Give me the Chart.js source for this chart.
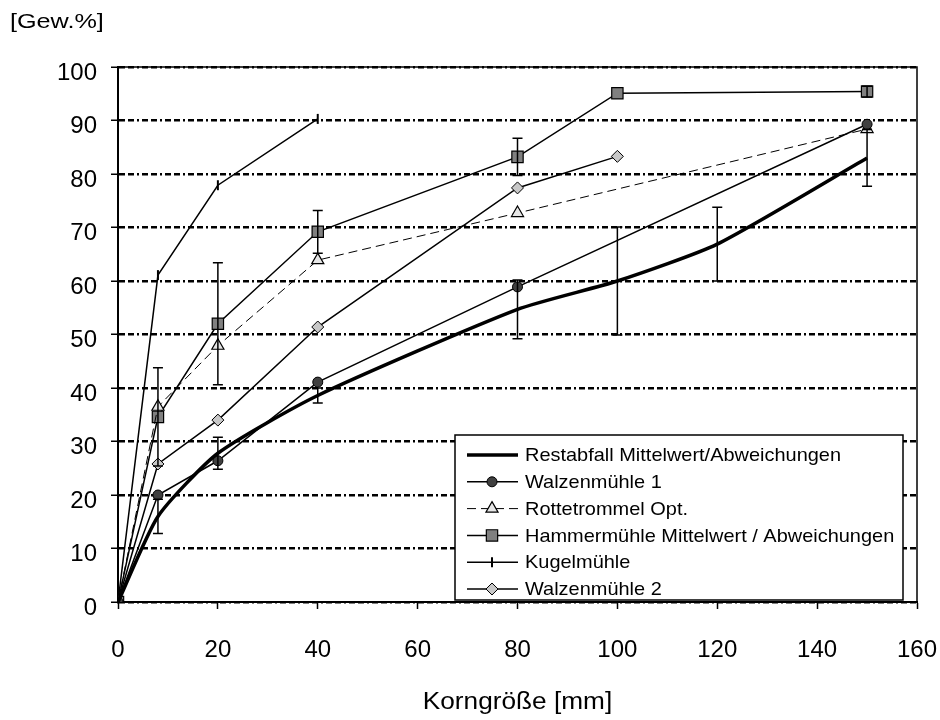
<!DOCTYPE html>
<html>
<head>
<meta charset="utf-8">
<script src="https://cdn.jsdelivr.net/npm/chart.js@4.4.1/dist/chart.umd.min.js"></script>
<style>
  html, body { margin: 0; padding: 0; background: #fff; }
  #chart { display: block; }
</style>
</head>
<body>
<canvas id="chart" width="940" height="720"></canvas>
<script>
// Korngröße [mm] per series and Gew.% values
var restabfallX = [0, 8, 20, 40, 80, 100, 120, 150];
var restabfall = [0, 16, 27.8, 38.6, 54.7, 60, 66.9, 83];
var restabfallErr = [0, 3.2, 3, 1.4, 5.5, 10.1, 6.9, 5.3];

var walzen1X = [0, 8, 20, 40, 80, 150];
var walzen1 = [0, 20, 26.4, 41.1, 58.9, 89.3];

var rotteX = [0, 8, 20, 40, 80, 150];
var rotte = [0, 36.5, 47.9, 63.9, 72.7, 88.4];

var hammerX = [0, 8, 20, 40, 80, 100, 150];
var hammer = [0, 34.6, 52, 69.2, 83.2, 95.1, 95.4];
var hammerErr = [0, 9.2, 11.4, 4, 3.5, 0, 1];

var kugelX = [0, 8, 20, 40];
var kugel = [0, 61.1, 77.9, 90.3];

var walzen2X = [0, 8, 20, 40, 80, 100];
var walzen2 = [0, 25.8, 34, 51.4, 77.4, 83.3];

var labels = [
    'Restabfall Mittelwert/Abweichungen',
    'Walzenmühle 1',
    'Rottetrommel Opt.',
    'Hammermühle Mittelwert / Abweichungen',
    'Kugelmühle',
    'Walzenmühle 2'
];
var yTitle = '[Gew.%]';
var xTitle = 'Korngröße [mm]';

var FONT = '"Liberation Sans", Arial, sans-serif';

function pts(xs, ys) {
    var out = [];
    for (var i = 0; i < xs.length; i++) {
        out.push({x: xs[i], y: ys[i]});
    }
    return out;
}

function stretchText(ctx, text, x, y, sx, align) {
    ctx.save();
    ctx.translate(x, y);
    ctx.scale(sx, 1);
    ctx.textAlign = align;
    ctx.fillText(text, 0, 0);
    ctx.restore();
}

// vertical error bars with small caps
var errorBars = {
    id: 'errorBars',
    afterDatasetsDraw: function (chart) {
        var ctx = chart.ctx, xs = chart.scales.x, ys = chart.scales.y;
        chart.data.datasets.forEach(function (ds) {
            if (!ds.errors) return;
            ctx.save();
            ctx.strokeStyle = '#000';
            ctx.lineWidth = 1.5;
            ds.data.forEach(function (p, i) {
                var e = ds.errors[i];
                if (!e) return;
                var px = xs.getPixelForValue(p.x);
                var top = ys.getPixelForValue(p.y + e);
                var bot = ys.getPixelForValue(p.y - e);
                ctx.beginPath();
                ctx.moveTo(px, top); ctx.lineTo(px, bot);
                ctx.moveTo(px - 5, top); ctx.lineTo(px + 5, top);
                ctx.moveTo(px - 5, bot); ctx.lineTo(px + 5, bot);
                ctx.stroke();
            });
            ctx.restore();
        });
    }
};

// frame, titles and the boxed legend
var decorations = {
    id: 'decorations',
    beforeDatasetsDraw: function (chart) {
        var ctx = chart.ctx, a = chart.chartArea;
        ctx.save();
        ctx.strokeStyle = '#000';
        ctx.lineWidth = 1.5;
        ctx.strokeRect(a.left, a.top, a.right - a.left, a.bottom - a.top);
        ctx.restore();
    },
    afterDraw: function (chart) {
        var ctx = chart.ctx, a = chart.chartArea;
        ctx.save();
        ctx.fillStyle = '#000';
        ctx.textBaseline = 'middle';
        ctx.font = '21px ' + FONT;
        stretchText(ctx, yTitle, 10, 22, 1.2, 'left');
        ctx.font = '23px ' + FONT;
        stretchText(ctx, xTitle, (a.left + a.right) / 2, 703, 1.14, 'center');

        // legend box
        var bx = 455, by = 435, bw = 448, bh = 165;
        ctx.fillStyle = '#fff';
        ctx.fillRect(bx, by, bw, bh);
        ctx.strokeStyle = '#000';
        ctx.lineWidth = 1.5;
        ctx.strokeRect(bx, by, bw, bh);

        ctx.font = '19px ' + FONT;
        chart.data.datasets.forEach(function (ds, i) {
            var y = 455 + i * 26.8;
            ctx.save();
            ctx.strokeStyle = '#000';
            ctx.lineWidth = ds.borderWidth;
            ctx.setLineDash(ds.borderDash || []);
            ctx.beginPath();
            ctx.moveTo(467, y);
            ctx.lineTo(518, y);
            ctx.stroke();
            ctx.restore();
            if (ds.pointRadius > 0 && Chart.helpers && Chart.helpers.drawPoint) {
                ctx.save();
                ctx.fillStyle = ds.pointBackgroundColor;
                ctx.strokeStyle = '#000';
                ctx.lineWidth = ds.pointBorderWidth;
                Chart.helpers.drawPoint(ctx, {
                    pointStyle: ds.pointStyle,
                    rotation: ds.pointRotation || 0,
                    radius: ds.pointRadius,
                    borderWidth: ds.pointBorderWidth
                }, 492, y);
                ctx.restore();
            }
            ctx.fillStyle = '#000';
            stretchText(ctx, ds.label, 525, y + 1, 1.05, 'left');
        });
        ctx.restore();
    }
};

var chart = new Chart(document.getElementById('chart'), {
    type: 'line',
    data: {
        datasets: [
            {
                label: labels[0],
                data: pts(restabfallX, restabfall),
                errors: restabfallErr,
                borderColor: '#000',
                borderWidth: 3.5,
                pointRadius: 0,
                tension: 0.2
            },
            {
                label: labels[1],
                data: pts(walzen1X, walzen1),
                borderColor: '#000',
                borderWidth: 1.5,
                pointStyle: 'circle',
                pointRadius: 5,
                pointBackgroundColor: '#404040',
                pointBorderColor: '#000',
                pointBorderWidth: 1
            },
            {
                label: labels[2],
                data: pts(rotteX, rotte),
                borderColor: '#000',
                borderWidth: 1,
                borderDash: [9, 5],
                pointStyle: 'triangle',
                pointRadius: 7,
                pointBackgroundColor: '#e6e6e6',
                pointBorderColor: '#000',
                pointBorderWidth: 1.2
            },
            {
                label: labels[3],
                data: pts(hammerX, hammer),
                errors: hammerErr,
                borderColor: '#000',
                borderWidth: 1.5,
                pointStyle: 'rect',
                pointRadius: 8,
                pointBackgroundColor: '#808080',
                pointBorderColor: '#000',
                pointBorderWidth: 1.2
            },
            {
                label: labels[4],
                data: pts(kugelX, kugel),
                borderColor: '#000',
                borderWidth: 1.5,
                pointStyle: 'line',
                pointRotation: 90,
                pointRadius: 5,
                pointBackgroundColor: '#000',
                pointBorderColor: '#000',
                pointBorderWidth: 2
            },
            {
                label: labels[5],
                data: pts(walzen2X, walzen2),
                borderColor: '#000',
                borderWidth: 1.5,
                pointStyle: 'rectRot',
                pointRadius: 6,
                pointBackgroundColor: '#c8c8c8',
                pointBorderColor: '#000',
                pointBorderWidth: 1
            }
        ]
    },
    options: {
        responsive: false,
        animation: false,
        devicePixelRatio: 1,
        layout: {
            padding: {left: 0, right: 23, top: 67, bottom: 0}
        },
        plugins: {
            legend: {display: false},
            tooltip: {enabled: false}
        },
        scales: {
            x: {
                type: 'linear',
                min: 0,
                max: 160,
                afterFit: function (scale) {
                    scale.height = 118;
                    scale.paddingRight = 0;
                    scale.paddingLeft = 0;
                },
                ticks: {
                    stepSize: 20,
                    color: '#000',
                    padding: 27,
                    font: {family: FONT, size: 24}
                },
                grid: {
                    drawOnChartArea: false,
                    drawTicks: true,
                    tickLength: 7,
                    tickColor: '#000',
                    tickWidth: 1.5,
                    color: '#000'
                },
                border: {color: '#000', width: 2}
            },
            y: {
                min: 0,
                max: 100,
                afterFit: function (scale) {
                    scale.width = 118;
                    scale.paddingTop = 0;
                    scale.paddingBottom = 0;
                },
                ticks: {
                    stepSize: 10,
                    color: '#000',
                    padding: 14,
                    labelOffset: 6,
                    font: {family: FONT, size: 24}
                },
                grid: {
                    color: '#000',
                    lineWidth: 2.5,
                    tickLength: 7,
                    tickColor: '#000',
                    tickWidth: 1.5,
                    tickBorderDash: []
                },
                border: {color: '#000', width: 2, dash: [6, 3, 6, 3, 2, 3]}
            }
        }
    },
    plugins: [errorBars, decorations]
});
</script>
</body>
</html>
